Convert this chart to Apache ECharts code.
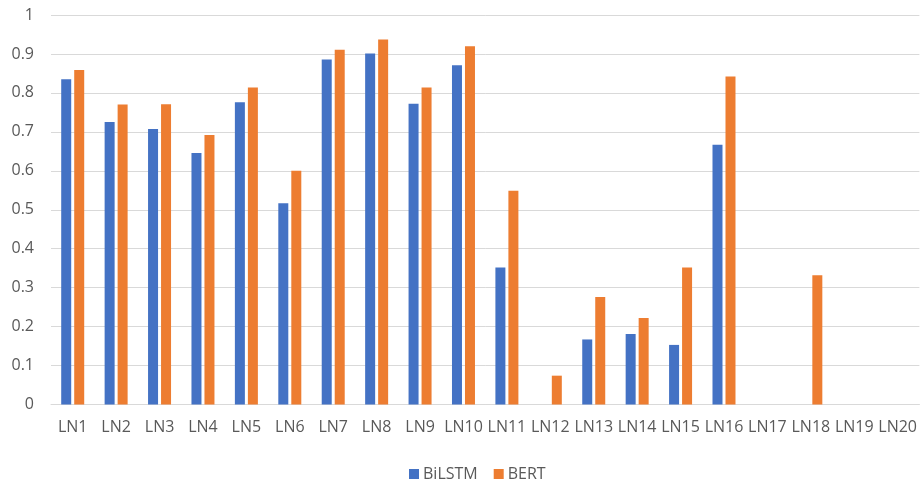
<!DOCTYPE html>
<html>
<head>
<meta charset="utf-8">
<script src="https://cdn.jsdelivr.net/npm/echarts@6/dist/echarts.min.js"></script>
<style>html,body{margin:0;padding:0;background:#fff}#c{width:920px;height:479px}</style>
</head>
<body>
<div id="c"></div>
<script>
var categories = ['LN1','LN2','LN3','LN4','LN5','LN6','LN7','LN8','LN9','LN10','LN11','LN12','LN13','LN14','LN15','LN16','LN17','LN18','LN19','LN20'];
var bilstm = [0.835,0.725,0.707,0.646,0.776,0.517,0.886,0.901,0.772,0.871,0.352,0,0.167,0.181,0.153,0.667,0,0,0,0];
var bert = [0.859,0.770,0.771,0.692,0.814,0.600,0.911,0.937,0.814,0.920,0.549,0.074,0.276,0.222,0.352,0.842,0,0.332,0,0];
var yTicks = {min:0, max:1, interval:0.1};

var chart = echarts.init(document.getElementById('c'));
var font = '"Open Sans", "Liberation Sans", sans-serif';
chart.setOption({
  animation:false,
  grid:{left:51, right:0, top:15, bottom:74.5, containLabel:false},
  legend:{
    data:['BiLSTM','BERT'],
    left:404, top:461,
    icon:'rect', itemWidth:10, itemHeight:10, itemGap:16,
    textStyle:{color:'#595959', fontSize:16, fontFamily:font, padding:[0,0,0,-1]}
  },
  xAxis:{
    type:'category', data:categories,
    axisLine:{lineStyle:{color:'#D9D9D9', width:1}},
    axisTick:{show:false},
    axisLabel:{color:'#595959', fontSize:16, fontFamily:font, margin:15, interval:0}
  },
  yAxis:{
    type:'value', min:yTicks.min, max:yTicks.max, interval:yTicks.interval,
    axisLine:{show:false}, axisTick:{show:false},
    splitLine:{lineStyle:{color:'#D9D9D9', width:1}},
    axisLabel:{color:'#595959', fontSize:16, fontFamily:font, margin:17}
  },
  series:[
    {name:'BiLSTM', type:'bar', data:bilstm, barWidth:10, barGap:'30%',
     itemStyle:{color:'#4472C4'}},
    {name:'BERT', type:'bar', data:bert, barWidth:10,
     itemStyle:{color:'#ED7D31'}}
  ]
});
</script>
</body>
</html>
